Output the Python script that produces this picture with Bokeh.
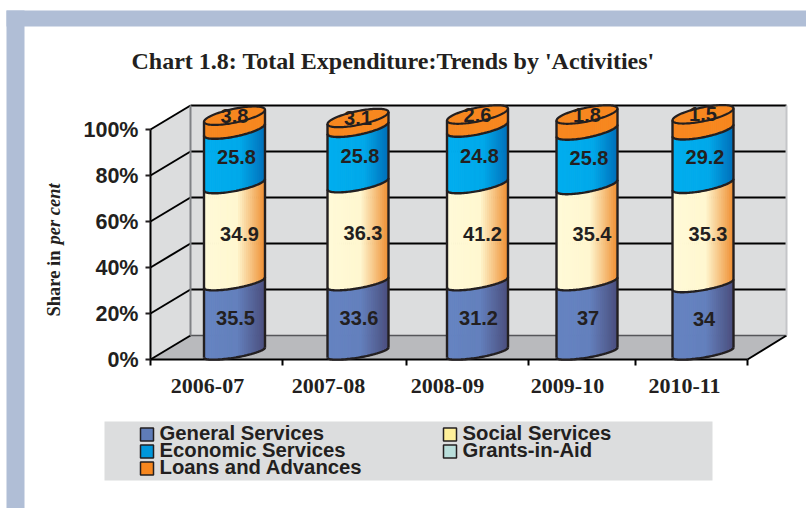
from bokeh.plotting import figure
from bokeh.models import Range1d, LinearAxis, FixedTicker
from bokeh.core.properties import value
from bokeh.embed import file_html
from bokeh.resources import INLINE
import math

# ---------- data ----------
categories = ["2006-07", "2007-08", "2008-09", "2009-10", "2010-11"]
# printed labels
general_labels = ["35.5", "33.6", "31.2", "37", "34"]
social_labels = ["34.9", "36.3", "41.2", "35.4", "35.3"]
economic_labels = ["25.8", "25.8", "24.8", "25.8", "29.2"]
loans_labels = ["3.8", "3.1", "2.6", "1.8", "1.5"]
# heights as actually drawn in the picture (axis percentage points)
general_drawn = [30.4, 30.4, 30.4, 30.4, 29.6]
social_drawn = [42.6, 43.0, 42.6, 42.2, 43.5]
economic_drawn = [23.9, 24.3, 24.8, 23.9, 23.5]
loans_drawn = [6.1, 4.3, 5.7, 7.0, 7.0]
y_ticks = [0, 20, 40, 60, 80, 100]
legend_names = ["General Services", "Social Services", "Economic Services", "Grants-in-Aid", "Loans and Advances"]

# ---------- layout ----------
W, H = 806, 508
Y0 = 359                 # pixel row of 0 %
PX = 2.3                 # pixels per percentage point
X0, X1 = 150, 747
WALL_R = 786
DX, DY = 40, 24 / PX
BAR_X = [234, 357.5, 477, 586.5, 702.5]
LABEL_X = [207, 328, 447, 567, 684]
TICK_X = [150, 282, 406, 528, 635, 747]
HALF = 30.5
BASE = 3.0
INK = "#231f20"
SANS = "Liberation Sans"
SERIF = "Liberation Serif"


def yd(y):
    return (Y0 - y) / PX


p = figure(width=W, height=H, output_backend="svg", toolbar_location=None,
           x_range=Range1d(0, W), y_range=Range1d(yd(H), yd(0)),
           x_axis_type=None, y_axis_type=None, min_border=0)
p.grid.visible = False
p.outline_line_color = None
p.background_fill_color = "white"
p.border_fill_color = "white"


def box(x0, y0, x1, y1, fill, line=None, lw=0):
    p.quad(left=[x0], right=[x1], top=[yd(y0)], bottom=[yd(y1)], fill_color=fill,
           line_color=line, line_width=lw)


def txt(x, y, text, size, font=SANS, style="bold", angle=0, align="left"):
    p.text([x], [yd(y)], text=[text], text_font=value(font), text_font_style=style,
           text_font_size=f"{size}px", text_align=align, text_baseline="middle",
           angle=angle, text_color=INK)


# page decoration
box(6, 10, 806, 26, "#b0bed6")
box(6, 10, 24, 508, "#b0bed6")
txt(131, 60, "Chart 1.8: Total Expenditure:Trends by 'Activities'", 24, SERIF)
txt(53, 316, "Share in", 18.5, SERIF, "bold", angle=math.pi / 2)
txt(53, 244, "per cent", 18.5, SERIF, "bold italic", angle=math.pi / 2)

# axes
ya = LinearAxis(ticker=FixedTicker(ticks=y_ticks), bounds=(0, 100), fixed_location=X0,
                major_label_overrides={t: f"{t}%" for t in y_ticks})
ya.major_tick_in = 0
ya.major_tick_out = 5
ya.minor_tick_out = 0
ya.minor_tick_in = 0
ya.major_tick_line_width = 2
ya.major_tick_line_color = INK
ya.axis_line_width = 2
ya.axis_line_color = "black"
ya.major_label_standoff = 7
ya.major_label_text_font = SANS
ya.major_label_text_font_style = "bold"
ya.major_label_text_font_size = "21.5px"
ya.major_label_text_color = INK
p.add_layout(ya, "left")

xa = LinearAxis(ticker=FixedTicker(ticks=LABEL_X, minor_ticks=TICK_X), bounds=(X0, X1), fixed_location=0,
                major_label_overrides=dict(zip(LABEL_X, categories)))
xa.major_tick_in = 0
xa.major_tick_out = 0
xa.minor_tick_in = 0
xa.minor_tick_out = 6
xa.minor_tick_line_width = 2
xa.minor_tick_line_color = "black"
xa.axis_line_width = 2
xa.axis_line_color = "black"
xa.major_label_standoff = 13
xa.major_label_text_font = SERIF
xa.major_label_text_font_style = "bold"
xa.major_label_text_font_size = "22px"
xa.major_label_text_color = INK
p.add_layout(xa, "below")

# walls and floor
top = y_ticks[-1]
p.patch([X0, X0 + DX, WALL_R, X1], [0, DY, DY, 0], fill_color="#b9babd", line_color=None)
p.patch([X0 + DX, WALL_R, WALL_R, X0 + DX], [DY, DY, top + DY, top + DY], fill_color="#dcddde", line_color=None)
p.patch([X0, X0 + DX, X0 + DX, X0], [0, DY, top + DY, top], fill_color="#dcddde", line_color=None)
grid = y_ticks[1:]
p.segment([X0] * len(grid), grid, [X0 + DX] * len(grid), [g + DY for g in grid], line_color="black", line_width=2)
p.segment([X0 + DX] * len(grid), [g + DY for g in grid], [WALL_R] * len(grid), [g + DY for g in grid],
          line_color="black", line_width=2)
p.segment([X0 + DX], [DY], [WALL_R], [DY], line_color="#55565a", line_width=1.5)
p.segment([X0], [0], [X0 + DX], [DY], line_color="black", line_width=2)
p.segment([X1], [0], [WALL_R], [DY], line_color="black", line_width=2)
p.segment([X0 + DX], [DY], [X0 + DX], [top + DY], line_color="#808285", line_width=2)
p.segment([WALL_R], [DY], [WALL_R], [top + DY], line_color="#c4c5c8", line_width=2)

# cylinders
RAMPS = [
    [(0, "#6584c2"), (0.55, "#6480bd"), (1, "#4b4f7e")],
    [(0, "#fffad8"), (0.55, "#fff7d0"), (1, "#ef9034")],
    [(0, "#00aeef"), (0.6, "#00a9ea"), (1, "#0070ba")],
    [(0, "#f7871f"), (1, "#f7871f")],
]


def ramp(stops, t):
    for (a, ca), (b, cb) in zip(stops, stops[1:]):
        if t <= b:
            f = (t - a) / (b - a)
            rgb = [round(int(ca[i:i + 2], 16) * (1 - f) + int(cb[i:i + 2], 16) * f) for i in (1, 3, 5)]
            return "#%02x%02x%02x" % tuple(rgb)
    return stops[-1][1]


def shape(level):
    f = (level - BASE) / 103
    return (5 + f) / PX, (5 + 2 * f) / PX


def lower(level, u):
    s, b = shape(level)
    return level + s * u - b * math.sqrt(max(0, 1 - u * u))


def upper(level, u):
    s, b = shape(level)
    return level + s * u + b * math.sqrt(max(0, 1 - u * u))


N = 30
us = [-1 + 2 * i / N for i in range(N + 1)]
FINE = [math.cos(math.pi * (1 - i / 60)) for i in range(61)]
series_drawn = [general_drawn, social_drawn, economic_drawn, loans_drawn]
series_labels = [general_labels, social_labels, economic_labels, loans_labels]
series_dx = [1, 5, 2, 0]
tx, ty, tt = [], [], []
LV = "annotation"
for i, cx in enumerate(BAR_X):
    levels = [BASE]
    for s in series_drawn:
        levels.append(levels[-1] + s[i])
    xs, ys, cols = [], [], []
    for k, stops in enumerate(RAMPS):
        for a, b in zip(us, us[1:]):
            xs.append([cx + HALF * a, cx + HALF * b, cx + HALF * b, cx + HALF * a])
            ys.append([lower(levels[k], a), lower(levels[k], b), lower(levels[k + 1], b), lower(levels[k + 1], a)])
            cols.append(ramp(stops, (a + b + 2) / 4))
    p.patches(xs, ys, fill_color=cols, line_color=cols, line_width=1, level=LV)
    # top cap
    p.patch([cx + HALF * u for u in FINE] + [cx + HALF * u for u in FINE[::-1]],
            [lower(levels[-1], u) for u in FINE] + [upper(levels[-1], u) for u in FINE[::-1]],
            fill_color="#f7871f", line_color=INK, line_width=2.2, level=LV)
    # boundaries
    for lv in levels[:-1]:
        p.line([cx + HALF * u for u in FINE], [lower(lv, u) for u in FINE], line_color=INK, line_width=2.4, level=LV)
    p.segment([cx - HALF, cx + HALF], [lower(levels[0], -1), lower(levels[0], 1)],
              [cx - HALF, cx + HALF], [lower(levels[-1], -1), lower(levels[-1], 1)],
              line_color=INK, line_width=2.4, level=LV)
    # value labels
    for k, labels in enumerate(series_labels):
        mid = levels[-1] if k == 3 else (levels[k] + levels[k + 1]) / 2
        tx.append(cx + series_dx[k])
        ty.append(mid)
        tt.append(labels[i])
p.text(tx, ty, text=tt, text_font=value(SANS), text_font_style="bold", text_font_size="20px",
       text_align="center", text_baseline="middle", text_color=INK, level=LV)

# legend
box(104, 421, 712, 480, "#dcddde")
LEG_COLS = ["#5f7cb8", "#fff09a", "#0097db", "#b9dedb", "#f7871f"]
LEG_POS = [(140, 434), (443, 434), (140, 451), (443, 451), (140, 468)]
for (lx, ly), name, col in zip(LEG_POS, legend_names, LEG_COLS):
    box(lx, ly - 6.5, lx + 13, ly + 6.5, col, INK, 1.5)
    txt(lx + 19, ly - 1.5, name, 20.3)

open("out.html", "w").write(file_html(p, INLINE))
